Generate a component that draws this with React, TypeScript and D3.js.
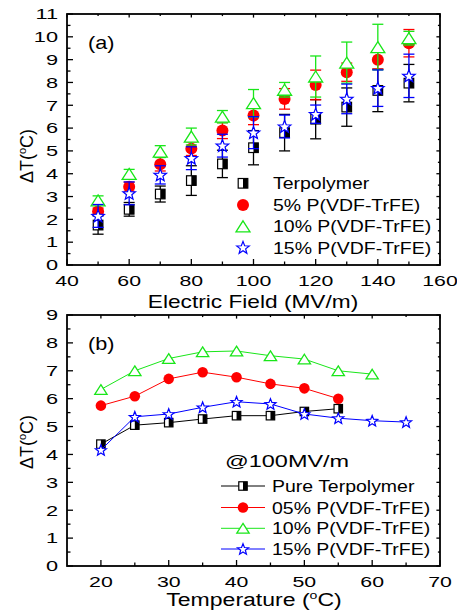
import React from "react";
import * as d3 from "d3";

// Panel (a): electrocaloric temperature change vs. applied field
const FIELD = [50, 60, 70, 80, 90, 100, 110, 120, 130, 140, 150];
const terpolymer = [1.75, 2.44, 3.11, 3.7, 4.43, 5.14, 5.8, 6.39, 6.92, 7.65, 7.97];
const terpolymerErr = [0.4, 0.3, 0.35, 0.65, 0.6, 0.75, 0.8, 0.86, 0.84, 0.93, 0.82];
const pvdf5 = [2.34, 3.43, 4.42, 5.1, 5.89, 6.55, 7.28, 7.89, 8.45, 8.99, 9.72];
const pvdf5Err = [0.15, 0.2, 0.3, 0.3, 0.35, 0.4, 0.45, 0.65, 0.4, 0.4, 0.6];
const pvdf10 = [2.83, 3.99, 4.97, 5.63, 6.5, 7.09, 7.68, 8.26, 8.87, 9.55, 9.94];
const pvdf10Err = [0.2, 0.2, 0.26, 0.37, 0.27, 0.6, 0.32, 0.9, 0.9, 1.0, 0.3];
const pvdf15 = [2.15, 3.14, 3.95, 4.68, 5.23, 5.8, 6.07, 6.61, 7.28, 7.75, 8.29];
const pvdf15Err = [0.5, 0.5, 0.4, 0.5, 0.5, 0.7, 0.5, 0.4, 0.65, 0.8, 0.95];

// Panel (b): temperature dependence at 100 MV/m
const TEMP = [20, 25, 30, 35, 40, 45, 50, 55, 60, 65];
const pureTerp = [4.37, 5.05, 5.14, 5.27, 5.39, 5.39, 5.54, 5.64];
const p05 = [5.75, 6.09, 6.71, 6.95, 6.77, 6.53, 6.37, 6.0];
const p10 = [6.33, 7.0, 7.44, 7.68, 7.71, 7.54, 7.42, 7.0, 6.88];
const p15 = [4.16, 5.35, 5.45, 5.69, 5.89, 5.81, 5.45, 5.3, 5.21, 5.16];

const legendA = ["Terpolymer", "5% P(VDF-TrFE)", "10% P(VDF-TrFE)", "15% P(VDF-TrFE)"];
const legendB = ["Pure Terpolymer", "05% P(VDF-TrFE)", "10% P(VDF-TrFE)", "15% P(VDF-TrFE)"];

const FONT = "'Liberation Sans', Arial, sans-serif";
const BLACK = "#000";
const RED = "#ff0000";
const GREEN = "#19e619";
const BLUE = "#0000ff";

type Kind = "square" | "circle" | "triangle" | "star";

function starPath(R: number, r: number) {
  const pts: [number, number][] = [];
  for (let i = 0; i < 10; i++) {
    const a = -Math.PI / 2 + (i * Math.PI) / 5;
    const rad = i % 2 === 0 ? R : r;
    pts.push([Math.cos(a) * rad, Math.sin(a) * rad]);
  }
  return d3.line()(pts) + "Z";
}

function Marker({ kind, x, y, s = 1 }: { kind: Kind; x: number; y: number; s?: number }) {
  if (kind === "square") {
    const h = 4.8 * s;
    return (
      <g transform={`translate(${x},${y})`}>
        <rect x={-h} y={-h} width={2 * h} height={2 * h} fill="#fff" />
        <rect x={0} y={-h} width={h} height={2 * h} fill={BLACK} />
        <rect x={-h} y={-h} width={2 * h} height={2 * h} fill="none" stroke={BLACK} strokeWidth={1.2} />
      </g>
    );
  }
  if (kind === "circle") {
    return <circle cx={x} cy={y} r={6 * s} fill={RED} />;
  }
  if (kind === "triangle") {
    const w = 7 * s;
    const h = 5.5 * s;
    const p = d3.line()([[0, -h], [w, h], [-w, h]]) + "Z";
    return <path d={p} transform={`translate(${x},${y})`} fill="#fff" stroke={GREEN} strokeWidth={1.3} />;
  }
  return (
    <path d={starPath(6.6 * s, 2.8 * s)} transform={`translate(${x},${y + 0.5})`} fill="#fff" stroke={BLUE} strokeWidth={1.2} />
  );
}

function SText({ x, y, sx = 1, size, anchor = "start", children }: any) {
  return (
    <text
      transform={`translate(${x},${y}) scale(${sx},1)`}
      fontSize={size}
      fontFamily={FONT}
      textAnchor={anchor}
      fill="#000"
    >
      {children}
    </text>
  );
}

function Frame({ x, y, xMajor, xMinor, yMajor, yMinor, xLabelY }: any) {
  const [x0, x1] = x.range();
  const [y0, y1] = y.range(); // y0 bottom, y1 top
  const MAJ = 6;
  const MIN = 3.5;
  const tickStroke = { stroke: BLACK, strokeWidth: 1.3 };
  return (
    <g>
      {xMajor.map((v: number) => (
        <g key={"xM" + v}>
          <line x1={x(v)} x2={x(v)} y1={y0} y2={y0 - MAJ} {...tickStroke} />
          <line x1={x(v)} x2={x(v)} y1={y1} y2={y1 + MAJ * 0.6} {...tickStroke} />
          <SText x={x(v)} y={xLabelY} sx={1.42} size={15} anchor="middle">
            {v}
          </SText>
        </g>
      ))}
      {xMinor.map((v: number) => (
        <g key={"xm" + v}>
          <line x1={x(v)} x2={x(v)} y1={y0} y2={y0 - MIN} {...tickStroke} />
          <line x1={x(v)} x2={x(v)} y1={y1} y2={y1 + MIN * 0.6} {...tickStroke} />
        </g>
      ))}
      {yMajor.map((v: number) => (
        <g key={"yM" + v}>
          <line x1={x0} x2={x0 + MAJ} y1={y(v)} y2={y(v)} {...tickStroke} />
          <line x1={x1} x2={x1 - MAJ * 0.6} y1={y(v)} y2={y(v)} {...tickStroke} />
          <SText x={x0 - 9} y={y(v) + 5.3} sx={1.45} size={15} anchor="end">
            {v}
          </SText>
        </g>
      ))}
      {yMinor.map((v: number) => (
        <g key={"ym" + v}>
          <line x1={x0} x2={x0 + MIN} y1={y(v)} y2={y(v)} {...tickStroke} />
          <line x1={x1} x2={x1 - MIN * 0.6} y1={y(v)} y2={y(v)} {...tickStroke} />
        </g>
      ))}
      <rect x={x0} y={y1} width={x1 - x0} height={y0 - y1} fill="none" stroke={BLACK} strokeWidth={1.8} />
    </g>
  );
}

function DeltaT({ cx, cy }: { cx: number; cy: number }) {
  return (
    <text
      transform={`translate(${cx},${cy}) rotate(-90)`}
      fontSize={18}
      fontFamily={FONT}
      textAnchor="middle"
      fill="#000"
    >
      ΔT(
      <tspan fontSize={11} dy={-7}>o</tspan>
      <tspan dy={7}>C)</tspan>
    </text>
  );
}

export default function App() {
  const L = 67;
  const R = 440;

  // Panel (a) scales
  const xa = d3.scaleLinear().domain([40, 160]).range([L, R]);
  const ya = d3.scaleLinear().domain([0, 11]).range([265, 14]);

  // Panel (b) scales
  const xb = d3.scaleLinear().domain([15, 70]).range([L, R]);
  const yb = d3.scaleLinear().domain([0, 9]).range([566, 315]);

  const seriesA: { kind: Kind; color: string; vals: number[]; err: number[] }[] = [
    { kind: "square", color: BLACK, vals: terpolymer, err: terpolymerErr },
    { kind: "circle", color: RED, vals: pvdf5, err: pvdf5Err },
    { kind: "triangle", color: GREEN, vals: pvdf10, err: pvdf10Err },
    { kind: "star", color: BLUE, vals: pvdf15, err: pvdf15Err },
  ];

  const seriesB: { kind: Kind; color: string; vals: number[] }[] = [
    { kind: "square", color: BLACK, vals: pureTerp },
    { kind: "circle", color: RED, vals: p05 },
    { kind: "triangle", color: GREEN, vals: p10 },
    { kind: "star", color: BLUE, vals: p15 },
  ];

  const lineB = d3
    .line<number>()
    .x((_, i) => xb(TEMP[i]))
    .y((v) => yb(v));

  const legendARows = [183.3, 205, 226.3, 247.5];
  const legendBRows = [486, 507.5, 528.3, 549];

  return (
    <svg width={457} height={614} style={{ position: "absolute", left: 0, top: 0, background: "#fff" }}>
      <rect width={457} height={614} fill="#fff" />

      {/* ---------- panel (a) ---------- */}
      <Frame
        x={xa}
        y={ya}
        xMajor={d3.range(40, 161, 20)}
        xMinor={d3.range(50, 160, 20)}
        yMajor={d3.range(0, 12, 1)}
        yMinor={d3.range(0.5, 11, 1)}
        xLabelY={286}
      />
      <SText x={88} y={49} sx={1.2} size={18}>(a)</SText>

      {seriesA.map((s, si) => (
        <g key={"a" + si}>
          {FIELD.map((f, i) => {
            const cx = xa(f);
            const top = ya(s.vals[i] + s.err[i]);
            const bot = ya(s.vals[i] - s.err[i]);
            return (
              <g key={i} stroke={s.color} strokeWidth={1.3}>
                <line x1={cx} x2={cx} y1={top} y2={bot} />
                <line x1={cx - 5.5} x2={cx + 5.5} y1={top} y2={top} />
                <line x1={cx - 5.5} x2={cx + 5.5} y1={bot} y2={bot} />
              </g>
            );
          })}
          {FIELD.map((f, i) => (
            <Marker key={"m" + i} kind={s.kind} x={xa(f)} y={ya(s.vals[i])} />
          ))}
        </g>
      ))}

      {seriesA.map((s, i) => (
        <g key={"la" + i}>
          <Marker kind={s.kind} x={243} y={legendARows[i]} />
          <SText x={273} y={legendARows[i] + 6} sx={1.18} size={16.5}>
            {legendA[i]}
          </SText>
        </g>
      ))}

      <DeltaT cx={33} cy={156} />
      <SText x={253} y={308} sx={1.26} size={18} anchor="middle">
        Electric Field (MV/m)
      </SText>

      {/* ---------- panel (b) ---------- */}
      <Frame
        x={xb}
        y={yb}
        xMajor={d3.range(20, 71, 10)}
        xMinor={d3.range(25, 70, 10)}
        yMajor={d3.range(0, 10, 1)}
        yMinor={d3.range(0.5, 9, 1)}
        xLabelY={587}
      />
      <SText x={88} y={350} sx={1.2} size={18}>(b)</SText>

      {seriesB.map((s, si) => (
        <g key={"b" + si}>
          <path d={lineB(s.vals) || ""} fill="none" stroke={s.color} strokeWidth={1} />
          {s.vals.map((v, i) => (
            <Marker key={i} kind={s.kind} x={xb(TEMP[i])} y={yb(v)} s={0.88} />
          ))}
        </g>
      ))}

      <SText x={225} y={467} sx={1.38} size={17}>@100MV/m</SText>
      {seriesB.map((s, i) => (
        <g key={"lb" + i}>
          <line x1={221} x2={265} y1={legendBRows[i]} y2={legendBRows[i]} stroke={s.color} strokeWidth={1} />
          <Marker kind={s.kind} x={243} y={legendBRows[i]} s={0.88} />
          <SText x={272} y={legendBRows[i] + 6} sx={1.18} size={16.5}>
            {legendB[i]}
          </SText>
        </g>
      ))}

      <DeltaT cx={33} cy={442} />
      <text
        transform={`translate(254,606) scale(1.28,1)`}
        fontSize={18}
        fontFamily={FONT}
        textAnchor="middle"
        fill="#000"
      >
        Temperature (
        <tspan fontSize={11} dy={-7}>o</tspan>
        <tspan dy={7}>C)</tspan>
      </text>
    </svg>
  );
}
